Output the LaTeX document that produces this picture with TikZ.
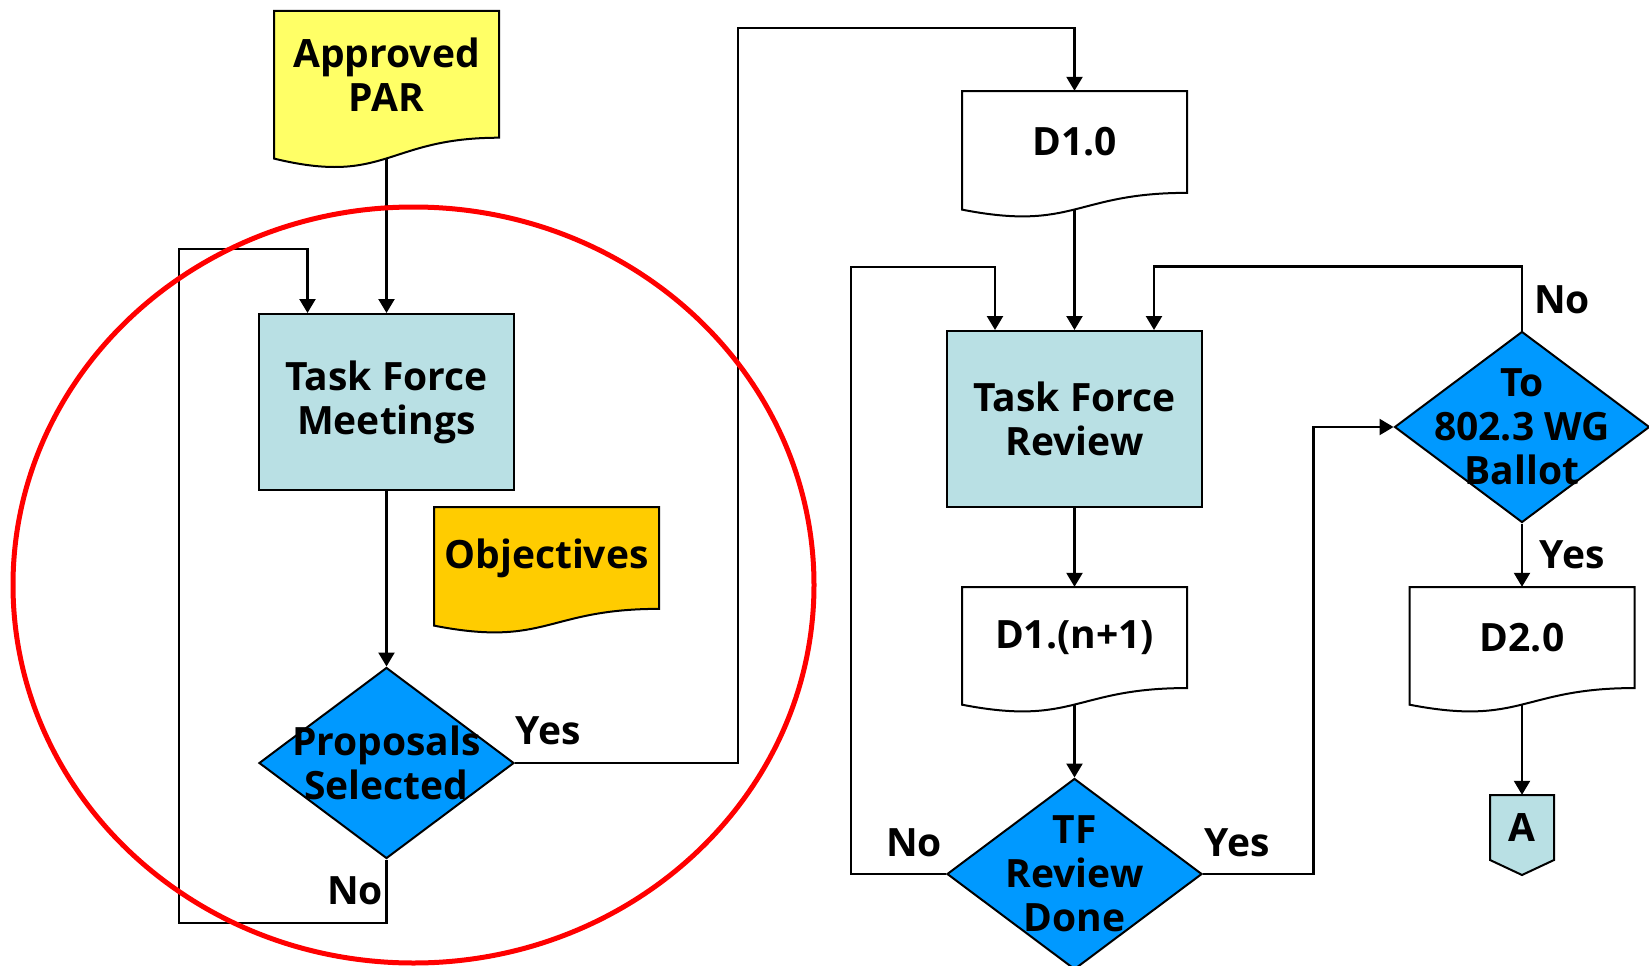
\documentclass[tikz,border=0pt]{standalone}
\usepackage{fontspec}
\setmainfont{Open Sans}
\usetikzlibrary{shapes.geometric,arrows.meta,calc}

\definecolor{parcol}{HTML}{FFFF66}
\definecolor{tfcol}{HTML}{B9E0E4}
\definecolor{objcol}{HTML}{FFCC00}
\definecolor{deccol}{HTML}{0099FF}

\tikzset{
  boxtext/.style={font=\fontsize{39}{44}\selectfont\bfseries, align=center},
  flow/.style={line width=2.4pt, -{Triangle[width=16pt,length=14pt]}},
  taskbox/.style={boxtext, rectangle, draw, line width=2pt, fill=tfcol,
    minimum width=255pt, minimum height=176pt},
  decision/.style={diamond, draw, line width=2pt, fill=deccol,
    minimum width=255pt, minimum height=191pt, inner sep=0pt},
  doctext/.style={boxtext, minimum width=225pt, inner sep=0pt},
  answer/.style={boxtext, inner sep=0pt}
}

% name, colour, top centre, height, text
\newcommand{\docnode}[5]{%
  \filldraw[line width=2pt, fill=#2, shift={#3}] (-112.5,0) -- (112.5,0)
    -- (112.5,0.802*#4) .. controls (0,0.802*#4) and (0,1.1076*#4) .. (-112.5,0.934*#4) -- cycle;
  \node[doctext, minimum height=0.802*#4pt] (#1) at ($#3+(0,0.401*#4)$) {#5};
  \coordinate (#1-out) at ($#3+(0,0.933*#4)$);
}

\begin{document}
\begin{tikzpicture}[x=1pt, y=-1pt]
\useasboundingbox (0,0) rectangle (1649,966);

\docnode{par}{parcol}{(386.5,11)}{158}{Approved\\PAR}
\docnode{obj}{objcol}{(546.5,507)}{127}{Objectives}
\docnode{d10}{white}{(1074.5,91)}{127}{D1.0}
\docnode{d1n}{white}{(1074.5,587)}{126}{D1.(n+1)}
\docnode{d20}{white}{(1522,587)}{126}{D2.0}

\node[taskbox] (tfm) at (386.5,402) {Task Force\\Meetings};
\node[taskbox] (tfr) at (1074.5,419) {Task Force\\Review};

\node[decision, label={[boxtext]center:Proposals\\Selected}] (prop) at (386.5,763) {};
\node[decision, label={[boxtext]center:TF\\Review\\Done}] (done) at (1074.5,874) {};
\node[decision, label={[boxtext]center:To\\802.3 WG\\Ballot}] (ballot) at (1522,427) {};

\filldraw[line width=2pt, fill=tfcol] (1490,795) -- (1554,795) -- (1554,860) -- (1522,875) -- (1490,860) -- cycle;
\node[answer, minimum width=64pt, minimum height=65pt] (conA) at (1522,827.5) {A};

\node[answer] (propyes) at (548,731) {Yes};
\node[answer] (propno) at (355,891) {No};
\node[answer] (doneno) at (914,843) {No};
\node[answer] (doneyes) at (1237,843) {Yes};
\node[answer] (ballotno) at (1562,300) {No};
\node[answer] (ballotyes) at (1572,555) {Yes};

\coordinate (noturn) at (179,923);
\coordinate (yesturn) at (738,28);
\coordinate (redo) at (851,267);

\draw[flow] (par-out) -- (tfm.north);
\draw[flow] (tfm.south) -- (prop.north);
\draw[flow] (prop.south) |- (noturn) |- ($(tfm.north)+(-79,-64)$) -- ($(tfm.north)+(-79,0)$);
\draw[flow] (prop.east) -| (yesturn) -| (d10.north);
\draw[flow] (d10-out) -- (tfr.north);
\draw[flow] (tfr.south) -- (d1n.north);
\draw[flow] (d1n-out) -- (done.north);
\draw[flow] (done.west) -| (redo) -| ($(tfr.north)+(-79.5,0)$);
\draw[flow] (done.east) -| ($(ballot.west)+(-80,0)$) -- (ballot.west);
\draw[flow] (ballot.north) -- ++(0,-64) -| ($(tfr.north)+(79.5,0)$);
\draw[flow] (ballot.south) -- (d20.north);
\draw[flow] (d20-out) -- (conA.north);

\draw[red, line width=5pt] (413.5,585) ellipse [x radius=400.5pt, y radius=378pt];
\end{tikzpicture}
\end{document}
